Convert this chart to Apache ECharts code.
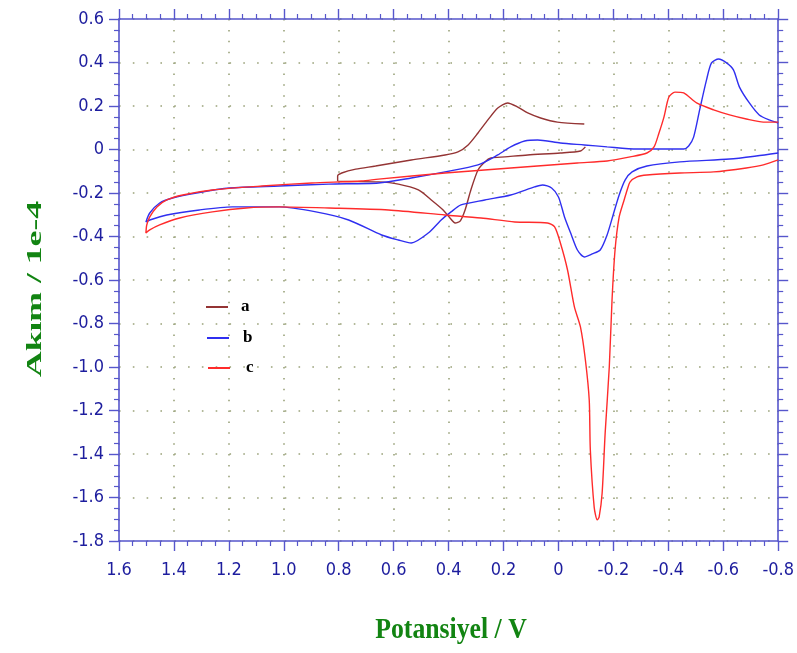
<!DOCTYPE html>
<html>
<head>
<meta charset="utf-8">
<script src="https://cdn.jsdelivr.net/npm/echarts@6/dist/echarts.min.js"></script>
<style>
html,body{margin:0;padding:0;background:#fff;}
#chart{width:797px;height:653px;}
</style>
</head>
<body>
<div id="chart"></div>
<script>
// ---- data (Potential / V, Current / 1e-4 A) ----
const xTicks = [1.6, 1.4, 1.2, 1.0, 0.8, 0.6, 0.4, 0.2, 0, -0.2, -0.4, -0.6, -0.8];
const yTicks = [0.6, 0.4, 0.2, 0, -0.2, -0.4, -0.6, -0.8, -1.0, -1.2, -1.4, -1.6, -1.8];
const seriesNames = ['a', 'b', 'c'];

const potentialA = [-0.098,-0.080,-0.007,0.112,0.195,0.246,0.268,0.293,0.319,0.340,0.358,0.376,0.395,0.420,0.463,0.510,0.583,0.655,0.804,0.804,0.789,0.738,0.666,0.536,0.413,0.366,0.329,0.293,0.257,0.221,0.185,0.148,0.112,0.065,0.004,-0.094];
const currentA = [0.012,-0.007,-0.016,-0.025,-0.034,-0.039,-0.057,-0.094,-0.186,-0.278,-0.329,-0.338,-0.315,-0.278,-0.232,-0.186,-0.159,-0.149,-0.145,-0.122,-0.108,-0.090,-0.076,-0.048,-0.025,-0.011,0.021,0.076,0.136,0.191,0.214,0.195,0.168,0.145,0.126,0.117];

const potentialB = [-0.8,-0.720,-0.623,-0.442,-0.322,-0.268,-0.243,-0.221,-0.199,-0.177,-0.152,-0.123,-0.094,-0.069,-0.047,-0.022,0.000,0.025,0.058,0.087,0.174,0.268,0.355,0.391,0.427,0.474,0.536,0.583,0.644,0.764,0.883,1.017,1.187,1.307,1.426,1.488,1.502,1.488,1.452,1.405,1.318,1.198,1.017,0.836,0.655,0.536,0.413,0.293,0.221,0.174,0.123,0.076,-0.007,-0.094,-0.177,-0.286,-0.456,-0.474,-0.492,-0.514,-0.539,-0.557,-0.583,-0.612,-0.637,-0.659,-0.695,-0.731,-0.767,-0.8];
const currentB = [-0.016,-0.030,-0.044,-0.057,-0.076,-0.103,-0.140,-0.209,-0.301,-0.393,-0.462,-0.480,-0.494,-0.462,-0.393,-0.310,-0.218,-0.177,-0.163,-0.172,-0.209,-0.232,-0.255,-0.287,-0.324,-0.384,-0.430,-0.416,-0.393,-0.324,-0.287,-0.264,-0.264,-0.278,-0.301,-0.324,-0.333,-0.292,-0.246,-0.223,-0.200,-0.177,-0.168,-0.159,-0.154,-0.131,-0.103,-0.071,-0.025,0.012,0.039,0.044,0.030,0.021,0.012,0.002,0.002,0.016,0.057,0.182,0.320,0.398,0.416,0.398,0.366,0.287,0.214,0.159,0.136,0.122];

const potentialC = [-0.8,-0.746,-0.684,-0.565,-0.442,-0.322,-0.286,-0.261,-0.250,-0.239,-0.221,-0.206,-0.195,-0.185,-0.170,-0.159,-0.148,-0.141,-0.130,-0.116,-0.112,-0.098,-0.080,-0.058,-0.033,-0.007,0.014,0.040,0.159,0.282,0.413,0.619,0.836,1.017,1.137,1.260,1.379,1.452,1.488,1.502,1.499,1.488,1.462,1.426,1.368,1.260,1.079,0.898,0.717,0.655,0.413,0.174,-0.069,-0.177,-0.261,-0.322,-0.348,-0.366,-0.384,-0.402,-0.424,-0.456,-0.503,-0.565,-0.623,-0.684,-0.746,-0.8];
const currentC = [-0.048,-0.071,-0.085,-0.103,-0.108,-0.117,-0.126,-0.149,-0.186,-0.232,-0.310,-0.462,-0.692,-1.000,-1.303,-1.579,-1.690,-1.703,-1.644,-1.382,-1.152,-0.968,-0.816,-0.724,-0.554,-0.430,-0.356,-0.338,-0.333,-0.315,-0.301,-0.278,-0.269,-0.264,-0.269,-0.287,-0.315,-0.347,-0.370,-0.384,-0.347,-0.310,-0.264,-0.232,-0.209,-0.186,-0.168,-0.154,-0.145,-0.136,-0.108,-0.085,-0.062,-0.053,-0.034,-0.016,0.012,0.076,0.149,0.241,0.264,0.260,0.214,0.182,0.159,0.140,0.126,0.126];

const xAxisTitle = 'Potansiyel / V';
const yAxisTitle = 'Akım / 1e-4';

// ---- chart ----
const pair = (xs, ys) => xs.map((v, i) => [v, ys[i]]);
const colors = ['#943434', '#2f2ff0', '#ff2b2b'];
const axisColor = '#5656cc';
const labelFont = "'Liberation Sans Narrow','DejaVu Sans Condensed','Arial Narrow',sans-serif";
const fmt = v => Math.abs(v) < 1e-9 ? '0' : v.toFixed(1);

const xMin = xTicks[xTicks.length - 1], xMax = xTicks[0];
const yMin = yTicks[yTicks.length - 1], yMax = yTicks[0];
const step = 0.2;

function xAxisDef(pos, main) {
  return {
    type: 'value', position: pos, inverse: true,
    min: xMin, max: xMax, interval: step,
    axisLine: { show: true, onZero: false, lineStyle: { color: axisColor, width: 1.6 } },
    axisTick: { show: true, length: 10, lineStyle: { color: axisColor, width: 1.4 } },
    minorTick: { show: true, splitNumber: 4, length: 5, lineStyle: { color: axisColor, width: 1.2 } },
    axisLabel: { show: main, formatter: fmt, color: '#1d1d9e', fontSize: 18, fontFamily: labelFont, margin: 20 },
    splitLine: { show: main, lineStyle: { color: '#9aa27a', width: 1.6, type: [1.6, 9.275] } }
  };
}
function yAxisDef(pos, main) {
  return {
    type: 'value', position: pos,
    min: yMin, max: yMax, interval: step,
    axisLine: { show: true, onZero: false, lineStyle: { color: axisColor, width: 1.6 } },
    axisTick: { show: true, length: 10, lineStyle: { color: axisColor, width: 1.4 } },
    minorTick: { show: true, splitNumber: 4, length: 5, lineStyle: { color: axisColor, width: 1.2 } },
    axisLabel: { show: main, formatter: fmt, color: '#1d1d9e', fontSize: 18, fontFamily: labelFont, margin: 15 },
    splitLine: { show: main, lineStyle: { color: '#9aa27a', width: 1.6, type: [1.6, 12.21] } }
  };
}

const legendTop = [293, 324, 354];
const legendLeft = [201, 202, 203];
const legendPad = [8, 9, 11];

const chart = echarts.init(document.getElementById('chart'), null, { renderer: 'canvas' });
chart.setOption({
  animation: false,
  backgroundColor: '#ffffff',
  grid: { left: 119, right: 15, top: 19, bottom: 112, containLabel: false },
  xAxis: [xAxisDef('bottom', true), xAxisDef('top', false)],
  yAxis: [yAxisDef('left', true), yAxisDef('right', false)],
  legend: seriesNames.map((n, i) => ({
    data: [n], orient: 'vertical', left: legendLeft[i], top: legendTop[i],
    icon: 'rect', itemWidth: 22, itemHeight: 2,
    textStyle: { fontFamily: "'Liberation Serif','Times New Roman',serif", fontWeight: 'bold', fontSize: 17, color: '#000', lineHeight: 18, padding: [0, 0, 0, legendPad[i]] }
  })),
  graphic: [
    { type: 'text', x: 451, y: 631, scaleX: 1.17, scaleY: 1.3,
      style: { text: xAxisTitle, font: "bold 22px 'Liberation Serif','Times New Roman',serif", fill: '#128412', align: 'center', verticalAlign: 'middle' } },
    { type: 'text', x: 35, y: 289, rotation: Math.PI / 2, scaleX: 1.62, scaleY: 1.0,
      style: { text: yAxisTitle, font: "bold 22px 'Liberation Serif','Times New Roman',serif", fill: '#128412', align: 'center', verticalAlign: 'middle' } }
  ],
  series: [
    { name: 'a', type: 'line', data: pair(potentialA, currentA) },
    { name: 'b', type: 'line', data: pair(potentialB, currentB) },
    { name: 'c', type: 'line', data: pair(potentialC, currentC) }
  ].map((s, i) => Object.assign(s, {
    showSymbol: false, symbol: 'none', smooth: 0.25,
    itemStyle: { color: colors[i] },
    lineStyle: { color: colors[i], width: 1.4 }
  }))
});
</script>
</body>
</html>
